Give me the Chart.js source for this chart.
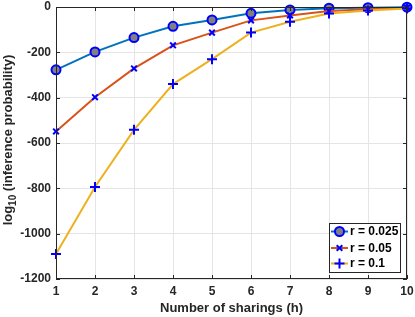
<!DOCTYPE html>
<html>
<head>
<meta charset="utf-8">
<script src="https://cdn.jsdelivr.net/npm/chart.js@4"></script>
<style>
  html, body { margin: 0; padding: 0; background: #fff; }
  #wrap { width: 415px; height: 317px; position: relative; }
</style>
</head>
<body>
<div id="wrap"><canvas id="grafico"></canvas></div>
<script>
// datos
const sharings = [1, 2, 3, 4, 5, 6, 7, 8, 9, 10];
const seriesNames = ['r = 0.025', 'r = 0.05', 'r = 0.1'];
const r025 = [-277, -198, -135, -85, -57, -28, -13, -5, -3, -1];
const r05 = [-549, -398, -271, -169, -113, -59, -37, -18, -10, -3];
const r1 = [-1090, -794, -542, -340, -230, -113, -65, -29, -15, -7];
const yTicks = [-1200, -1000, -800, -600, -400, -200, 0];

const FONT = '"Liberation Sans", Arial, sans-serif';
const AXIS = '#262626';

// caja, ticks internos, titulos y leyenda estilo MATLAB
const estiloMatlab = {
    id: 'estiloMatlab',
    afterDatasetsDraw(chart) {
        const { ctx, chartArea: a, scales } = chart;
        ctx.save();
        ctx.strokeStyle = AXIS;
        ctx.lineWidth = 1;
        ctx.strokeRect(a.left + 0.5, a.top + 0.5, a.right - a.left - 1, a.bottom - a.top - 1);
        // ticks hacia dentro
        ctx.beginPath();
        sharings.forEach(v => {
            const x = Math.round(scales.x.getPixelForValue(v)) + 0.5;
            ctx.moveTo(x, a.bottom); ctx.lineTo(x, a.bottom - 4);
            ctx.moveTo(x, a.top); ctx.lineTo(x, a.top + 4);
        });
        yTicks.forEach(v => {
            const y = Math.round(scales.y.getPixelForValue(v)) + 0.5;
            ctx.moveTo(a.left, y); ctx.lineTo(a.left + 4, y);
            ctx.moveTo(a.right, y); ctx.lineTo(a.right - 4, y);
        });
        ctx.stroke();

        // titulo eje x
        ctx.fillStyle = AXIS;
        ctx.font = 'bold 13px ' + FONT;
        ctx.textAlign = 'center';
        ctx.textBaseline = 'middle';
        ctx.fillText('Number of sharings (h)', (a.left + a.right) / 2, 308);

        // titulo eje y con subindice
        ctx.translate(12, 140);
        ctx.rotate(-Math.PI / 2);
        ctx.textBaseline = 'alphabetic';
        ctx.textAlign = 'left';
        const p1 = 'log', p2 = '10', p3 = ' (inference probability)';
        ctx.font = 'bold 13px ' + FONT;
        const w1 = ctx.measureText(p1).width, w3 = ctx.measureText(p3).width;
        ctx.font = 'bold 10px ' + FONT;
        const w2 = ctx.measureText(p2).width;
        const x0 = -(w1 + w2 + w3) / 2;
        ctx.font = 'bold 13px ' + FONT;
        ctx.fillText(p1, x0, 0);
        ctx.font = 'bold 10px ' + FONT;
        ctx.fillText(p2, x0 + w1, 4);
        ctx.font = 'bold 13px ' + FONT;
        ctx.fillText(p3, x0 + w1 + w2, 0);
        ctx.restore();

        // leyenda
        ctx.save();
        const lx = 329, ly = 223, lw = 71, lh = 49;
        ctx.fillStyle = '#fff';
        ctx.fillRect(lx, ly, lw, lh);
        ctx.strokeStyle = '#262626';
        ctx.lineWidth = 1;
        ctx.strokeRect(lx + 0.5, ly + 0.5, lw, lh);
        const rows = [231.5, 248, 263.5];
        chart.data.datasets.forEach((ds, i) => {
            const y = rows[i];
            ctx.strokeStyle = ds.borderColor;
            ctx.lineWidth = 2;
            ctx.beginPath();
            ctx.moveTo(331, y); ctx.lineTo(348, y);
            ctx.stroke();
            ctx.fillStyle = ds.pointBackgroundColor;
            ctx.strokeStyle = ds.pointBorderColor;
            ctx.lineWidth = ds.pointBorderWidth;
            Chart.helpers.drawPoint(ctx, {
                pointStyle: ds.pointStyle,
                radius: ds.pointRadius,
                borderWidth: ds.pointBorderWidth,
                rotation: 0
            }, 339.5, y);
            ctx.fillStyle = '#000';
            ctx.font = 'bold 12px ' + FONT;
            ctx.textAlign = 'left';
            ctx.textBaseline = 'middle';
            ctx.fillText(ds.label, 350, y + 0.5);
        });
        ctx.restore();
    }
};

new Chart(document.getElementById('grafico').getContext('2d'), {
    type: 'line',
    data: {
        labels: sharings,
        datasets: [{
            label: seriesNames[0],
            data: r025,
            order: 3,
            borderColor: '#0072BD',
            borderWidth: 2,
            pointStyle: 'circle',
            pointRadius: 4.5,
            pointBackgroundColor: '#808080',
            pointBorderColor: '#0000FF',
            pointBorderWidth: 2,
            clip: false
        }, {
            label: seriesNames[1],
            data: r05,
            order: 2,
            borderColor: '#D95319',
            borderWidth: 2,
            pointStyle: 'crossRot',
            pointRadius: 4,
            pointBackgroundColor: '#0000FF',
            pointBorderColor: '#0000FF',
            pointBorderWidth: 2,
            clip: false
        }, {
            label: seriesNames[2],
            data: r1,
            order: 1,
            borderColor: '#EDB120',
            borderWidth: 2,
            pointStyle: 'cross',
            pointRadius: 5,
            pointBackgroundColor: '#0000FF',
            pointBorderColor: '#0000FF',
            pointBorderWidth: 2,
            clip: false
        }]
    },
    options: {
        responsive: true,
        maintainAspectRatio: false,
        animation: false,
        layout: { padding: 0 },
        plugins: { legend: { display: false }, tooltip: { enabled: false } },
        scales: {
            x: {
                type: 'linear',
                min: 1, max: 10,
                afterFit: s => { s.height = 38; s.paddingRight = 8; s.paddingLeft = 0; },
                afterBuildTicks: s => { s.ticks = sharings.map(v => ({ value: v })); },
                grid: { color: '#e5e5e5', drawTicks: false },
                border: { display: false },
                ticks: { color: AXIS, padding: 5, callback: v => String(v), font: { family: FONT, size: 12, weight: 'bold' } }
            },
            y: {
                min: -1200, max: 0,
                afterFit: s => { s.width = 56; s.paddingTop = 6; s.paddingBottom = 0; },
                afterBuildTicks: s => { s.ticks = yTicks.map(v => ({ value: v })); },
                grid: { color: '#e5e5e5', drawTicks: false },
                border: { display: false },
                ticks: { color: AXIS, padding: 5, callback: v => String(v), font: { family: FONT, size: 12, weight: 'bold' } }
            }
        }
    },
    plugins: [estiloMatlab]
});
</script>
</body>
</html>
